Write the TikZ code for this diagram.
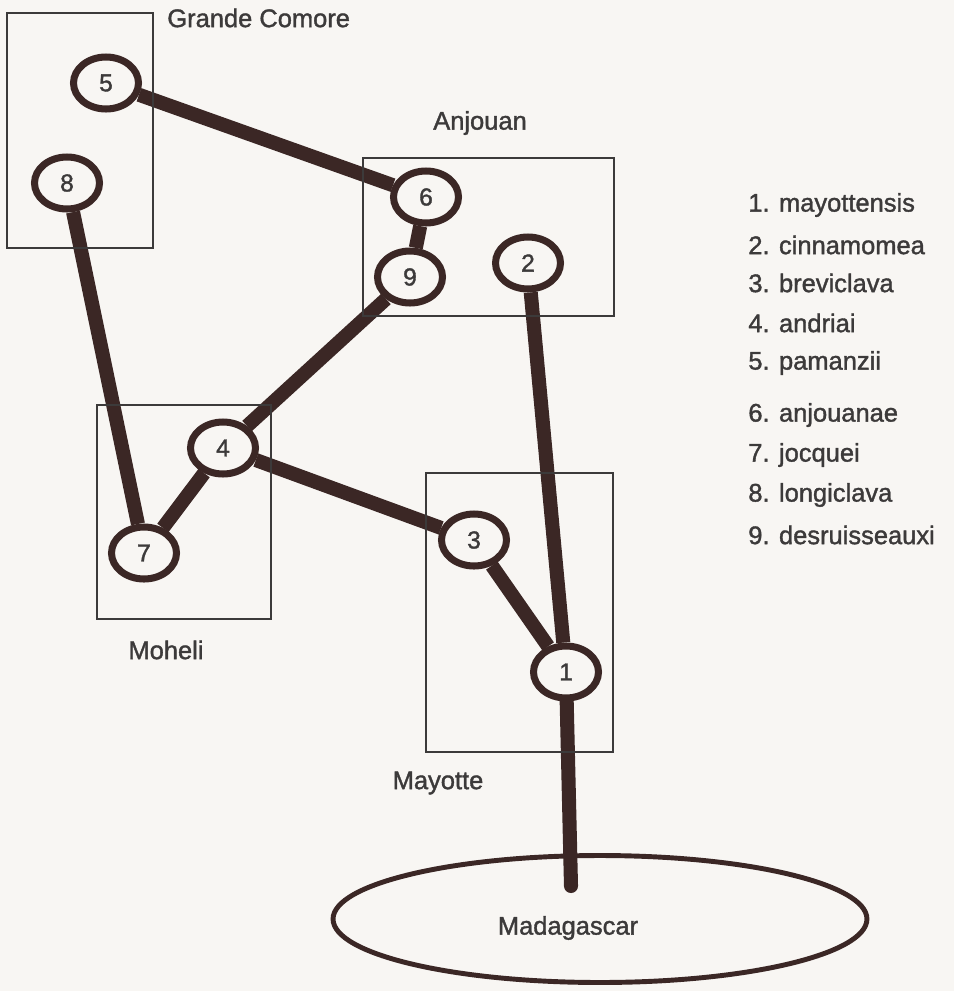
\documentclass[tikz,border=0pt]{standalone}
\usepackage{fontspec}
\setmainfont{Liberation Sans}
\newfontfamily\labelfont{Liberation Sans}[FakeBold=1.4]
\usetikzlibrary{shapes.geometric, backgrounds}
\definecolor{Bark}{HTML}{3B2725}
\definecolor{Ink}{HTML}{3C3A3A}
\definecolor{Paper}{HTML}{F8F6F3}
\tikzset{
    isle/.style={ellipse, draw=Bark, line width=4pt, fill=Paper, minimum width=1.3cm, minimum height=1.04cm, inner sep=0pt, text=Ink, font=\labelfont\fontsize{14}{16}\selectfont},
    islandbox/.style={draw=Ink, line width=0.8pt},
    branch/.style={draw=Bark, line width=8pt},
    maplabel/.style={text=Ink, font=\labelfont\fontsize{14.5}{17}\selectfont, inner sep=0pt},
    legend/.style={maplabel, anchor=west},
}
\begin{document}
\begin{tikzpicture}[x=0.02cm, y=-0.02cm]
                \useasboundingbox (0,0) rectangle (954,991);

                % Iles (cadres)
                \draw[islandbox] (7,13) rectangle (153,248);
                \draw[islandbox] (363,158) rectangle (614,316);
                \draw[islandbox] (97,405) rectangle (271,619);
                \draw[islandbox] (426,473) rectangle (613,752);
                \node[maplabel, anchor=west] (grande) at (167,18) {Grande Comore};
                \node[maplabel] (anjouan) at (480,123) {Anjouan};
                \node[maplabel] (moheli) at (166,650) {Moheli};
                \node[maplabel] (mayotte) at (438,783) {Mayotte};

                % Madagascar
                \node[ellipse, draw=Bark, line width=2.8pt, minimum width=10.68cm, minimum height=2.54cm] (madagascar) at (600,919) {};
                \node[maplabel] (madtext) at (568,928) {Madagascar};
                \coordinate (madend) at (571,886);

                % Especes
                \node[isle] (s5) at (106,83) {5};
                \node[isle] (s8) at (67,183) {8};
                \node[isle] (s6) at (426,197) {6};
                \node[isle] (s9) at (410,277) {9};
                \node[isle] (s2) at (528,263) {2};
                \node[isle] (s4) at (223,448) {4};
                \node[isle] (s7) at (144,553) {7};
                \node[isle] (s3) at (474,540) {3};
                \node[isle] (s1) at (566,672) {1};

                % Branches
                \begin{scope}[on background layer]
                    \fill[Paper] (0,0) rectangle (954,991);
                    \draw[branch] (s5) -- (s6);
                    \draw[branch] (s6) -- (s9);
                    \draw[branch] (s9) -- (s4);
                    \draw[branch] (s4) -- (s7);
                    \draw[branch] (s8) -- (s7);
                    \draw[branch] (s4) -- (s3);
                    \draw[branch] (s3) -- (s1);
                    \draw[branch] (s2) -- (s1);
                    \draw[branch, line cap=round] (s1) -- (madend);
                \end{scope}

                % Legende
                \node[legend] (l1) at (748,205) {1. mayottensis};
                \node[legend] (l2) at (748,245) {2. cinnamomea};
                \node[legend] (l3) at (748,283) {3. breviclava};
                \node[legend] (l4) at (748,323) {4. andriai};
                \node[legend] (l5) at (748,363) {5. pamanzii};
                \node[legend] (l6) at (748,415) {6. anjouanae};
                \node[legend] (l7) at (748,455) {7. jocquei};
                \node[legend] (l8) at (748,495) {8. longiclava};
                \node[legend] (l9) at (748,535) {9. desruisseauxi};
            \end{tikzpicture}
\end{document}
